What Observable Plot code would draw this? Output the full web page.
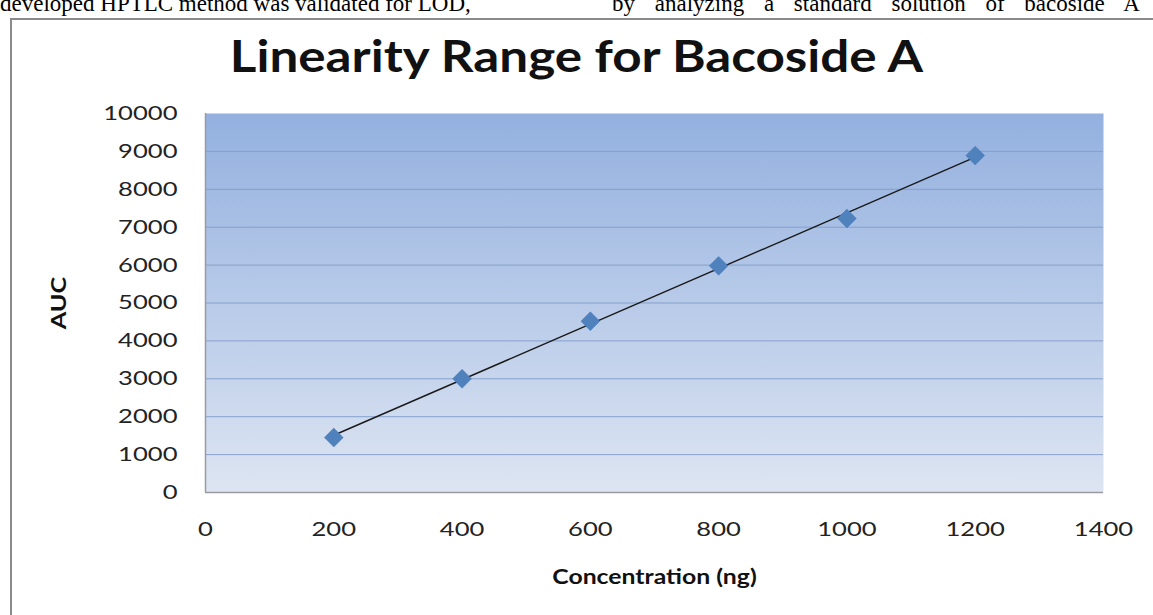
<!DOCTYPE html>
<html>
<head>
<meta charset="utf-8">
<script src="https://cdn.jsdelivr.net/npm/d3@7"></script>
<script src="https://cdn.jsdelivr.net/npm/@observablehq/plot@0.6"></script>
<style>
  html, body { margin: 0; padding: 0; background: #fff; }
  body { width: 1153px; height: 615px; position: relative; overflow: hidden; font-family: Lato, "Open Sans", sans-serif; }
  #header { position: absolute; left: 0; top: -9px; width: 1153px; font-family: "Liberation Serif", serif; font-size: 23px; color: #000; white-space: nowrap; }
  #header .l { position: absolute; left: 0; }
  #header .r { position: absolute; left: 612px; word-spacing: 14px; }
  #frame { position: absolute; left: 10px; top: 18px; width: 1160px; height: 620px; border: 2px solid #8a8a8a; box-sizing: border-box; }
  #title { position: absolute; left: 0; width: 1153px; top: 30px; text-align: center; font-family: Lato, sans-serif; font-weight: 700; font-size: 43px; color: #111; transform: scaleX(1.19); transform-origin: 577px 0; }
  #chart { position: absolute; left: 0; top: 85px; }
</style>
</head>
<body>
<div id="header"><span class="l">developed HPTLC method was validated for LOD,</span><span class="r">by analyzing a standard solution of bacoside A</span></div>
<div id="frame"></div>
<div id="title">Linearity Range for Bacoside A</div>
<div id="chart"></div>
<script>
const concentration = [200, 400, 600, 800, 1000, 1200];
const auc = [1450, 3000, 4520, 5980, 7230, 8890];
const xTicks = [0, 200, 400, 600, 800, 1000, 1200, 1400];
const yTicks = [0, 1000, 2000, 3000, 4000, 5000, 6000, 7000, 8000, 9000, 10000];
const xLabel = "Concentration (ng)";
const yLabel = "AUC";

const data = concentration.map((c, i) => ({c, v: auc[i]}));

const plot = Plot.plot({
  width: 1153,
  height: 530,
  marginLeft: 205,
  marginRight: 50,
  marginTop: 28,
  marginBottom: 123,
  style: {fontFamily: "Lato, 'Open Sans', sans-serif", fontSize: "20px", color: "#222", background: "transparent"},
  x: {domain: [0, 1400]},
  y: {domain: [0, 10000]},
  marks: [
    Plot.frame({fill: "url(#bggrad)", stroke: null}),
    Plot.gridY(yTicks.filter(d => d > 0 && d < 10000), {stroke: "#7f9bcb", strokeOpacity: 0.9, strokeWidth: 1}),
    Plot.ruleX([0], {stroke: "#9a9aa2", strokeWidth: 1.5}),
    Plot.ruleY([0], {stroke: "#9a9aa2", strokeWidth: 1.5}),
    Plot.axisY({ticks: yTicks, tickSize: 0, tickPadding: 28, tickFormat: d => String(d), label: yLabel, labelAnchor: "center", labelArrow: "none", labelOffset: 154}),
    Plot.axisX({ticks: xTicks, tickSize: 0, tickPadding: 29, tickFormat: d => String(d), label: null}),
    Plot.text([xLabel], {frameAnchor: "bottom", dy: 91, fontWeight: 700, fontSize: 21, fill: "#111"}),
    Plot.linearRegressionY(data, {x: "c", y: "v", ci: 0, stroke: "#1a1a1a", strokeWidth: 1.4}),
    Plot.dot(data, {x: "c", y: "v", symbol: "diamond2", r: 8.5, fill: "#4f81bd", stroke: "#4a7bb8", strokeWidth: 0.5})
  ]
});

// gradient background definition
const ns = "http://www.w3.org/2000/svg";
const defs = document.createElementNS(ns, "defs");
defs.innerHTML = '<linearGradient id="bggrad" x1="0" y1="0" x2="0" y2="1"><stop offset="0" stop-color="#93b0df"/><stop offset="1" stop-color="#dde5f2"/></linearGradient>';
plot.insertBefore(defs, plot.firstChild);
// stretch texts horizontally about their anchor, like the stretched reference
function stretch(sel, k) {
  plot.querySelectorAll(sel).forEach(t => {
    const tr = t.getAttribute("transform") || "";
    t.setAttribute("transform", tr + ` scale(${k},1)`);
  });
}
stretch("g[aria-label='y-axis tick label'] text", 1.28);
stretch("g[aria-label='x-axis tick label'] text", 1.28);
// bold y-axis label
plot.querySelectorAll("g[aria-label='y-axis label'] text").forEach(t => { t.setAttribute("font-weight", "700"); t.setAttribute("font-size", "21"); t.setAttribute("fill", "#111"); });
stretch("g[aria-label='y-axis label'] text", 1.2);
stretch("g[aria-label='text'] text", 1.18);
document.getElementById("chart").appendChild(plot);
</script>
</body>
</html>
